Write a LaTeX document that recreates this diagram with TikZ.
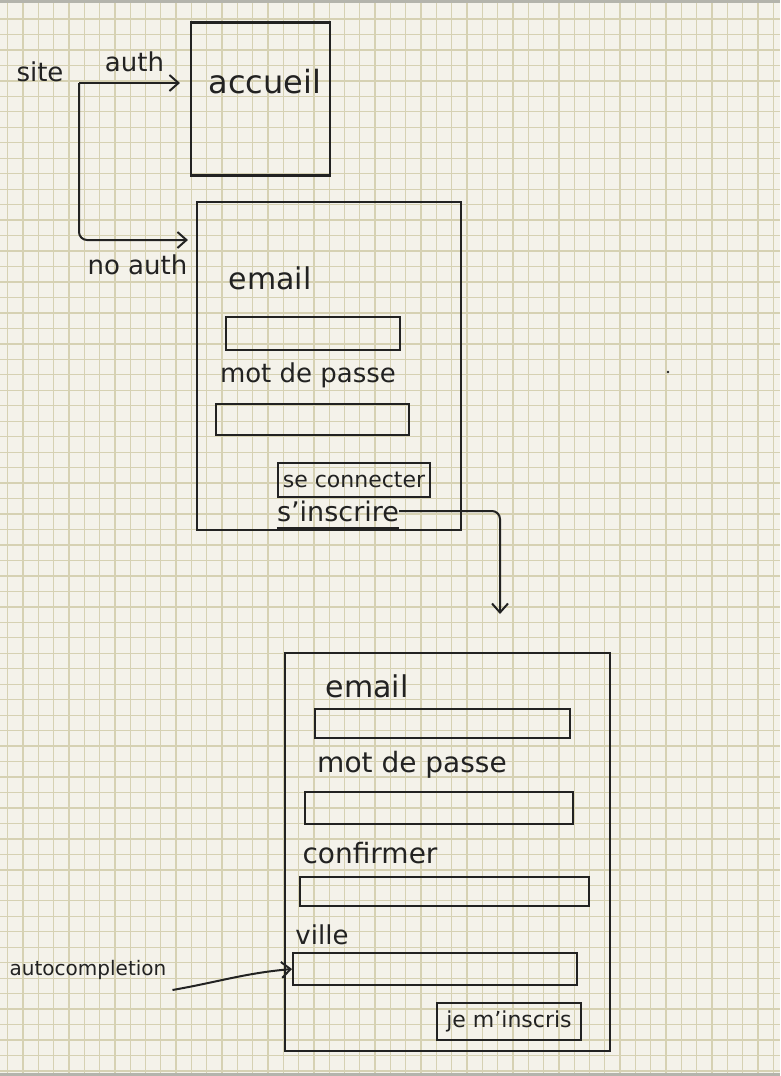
\documentclass[tikz,border=0pt]{standalone}
\usepackage{fontspec}
\setmainfont{DejaVu Sans}
\usetikzlibrary{arrows.meta}
\definecolor{papier}{HTML}{F4F2EA}
\definecolor{quadrillage}{HTML}{D6D1B3}
\definecolor{bord}{HTML}{B4B4AC}
\definecolor{encre}{HTML}{222222}
\tikzset{
  hand/.style={font=\fontsize{#1}{#1}\selectfont, text=encre, inner sep=0pt},
  hand/.default=26,
  ecran/.style={draw=encre, line width=2.1pt, rectangle, inner sep=0pt},
  champ/.style={draw=encre, line width=2pt, rectangle, inner sep=0pt},
  bouton/.style={draw=encre, line width=2pt, rectangle, inner sep=0pt,
    text=encre, font=\fontsize{22}{22}\selectfont},
  fleche/.style={draw=encre, line width=2pt,
    -{Straight Barb[length=9pt, width=16pt]}},
}

\begin{document}
\begin{tikzpicture}[x=1pt, y=-1pt]
  \useasboundingbox (0,0) rectangle (780,1076);
  % papier quadrille
  \fill[papier] (0,0) rectangle (780,1076);
  \foreach \i in {0,...,50}
    \draw[quadrillage, line width=1.3pt] ({7.7+15.31*\i},0) -- ++(0,1076);
  \foreach \j in {0,...,68}
    \draw[quadrillage, line width=1.3pt] (0,{19+15.47*\j}) -- ++(780,0);
  \fill[bord] (0,0) rectangle (780,3);
  \fill[bord] (0,1073) rectangle (780,1076);

  % ecran accueil
  \node[ecran, minimum width=139pt, minimum height=153pt] (accueil) at (260.5,99) {};
  \node[hand=32] (accueilTxt) at (265,82) {accueil};

  % ecran de connexion
  \node[ecran, minimum width=264pt, minimum height=328pt] (login) at (329,366) {};
  \node[hand=30] (loginEmail) at (270,278) {email};
  \node[champ, minimum width=174pt, minimum height=33pt] (loginEmailChamp) at (313,333) {};
  \node[hand=26] (loginMdp) at (308,375) {mot de passe};
  \node[champ, minimum width=193pt, minimum height=31pt] (loginMdpChamp) at (312,419) {};
  \node[bouton, minimum width=152pt, minimum height=34pt] (connecter) at (354,480) {se connecter};
  \node[hand=27] (inscrire) at (338,511) {s'inscrire};
  \draw[encre, line width=2pt] ([yshift=-6pt]inscrire.south west) -- ([yshift=-6pt]inscrire.south east);

  % ecran d'inscription
  \node[ecran, minimum width=325pt, minimum height=398pt] (inscription) at (447.5,852) {};
  \node[hand=30] (insEmail) at (367,686) {email};
  \node[champ, minimum width=255pt, minimum height=29pt] (insEmailChamp) at (442.5,723) {};
  \node[hand=28] (insMdp) at (412,765) {mot de passe};
  \node[champ, minimum width=268pt, minimum height=32pt] (insMdpChamp) at (439,808) {};
  \node[hand=28] (insConf) at (370,853) {confirmer};
  \node[champ, minimum width=289pt, minimum height=29pt] (insConfChamp) at (444.5,891.5) {};
  \node[hand=26] (insVille) at (322,935) {ville};
  \node[champ, minimum width=284pt, minimum height=32pt] (insVilleChamp) at (435,969) {};
  \node[bouton, minimum width=144pt, minimum height=37pt] (jeMinscris) at (509,1021.5) {je m'inscris};
  \node[hand=20] (autoc) at (88,970) {autocompletion};
  \fill[encre] (668,372) circle (1.4pt);

  % entree du site
  \node[hand] (site) at (40,72) {site};
  \coordinate (depart) at (79,83);
  \coordinate (entreeLogin) at (login.west |- 0,240);
  \coordinate (versInscription) at (500,614);
  \draw[fleche, shorten >=10pt] (depart) -- node[hand, above=10pt] (auth) {auth} (depart -| accueil.west);
  \draw[fleche, rounded corners=8pt, shorten >=8pt] (depart) |-
    node[hand, pos=0.75, below=14pt] (noauth) {no auth} (entreeLogin);
  \draw[fleche, rounded corners=8pt] (inscrire.east) -| (versInscription);
  \draw[fleche] ([xshift=6pt, yshift=-20pt]autoc.east) to[out=10, in=185] (insVilleChamp.west);
\end{tikzpicture}
\end{document}
